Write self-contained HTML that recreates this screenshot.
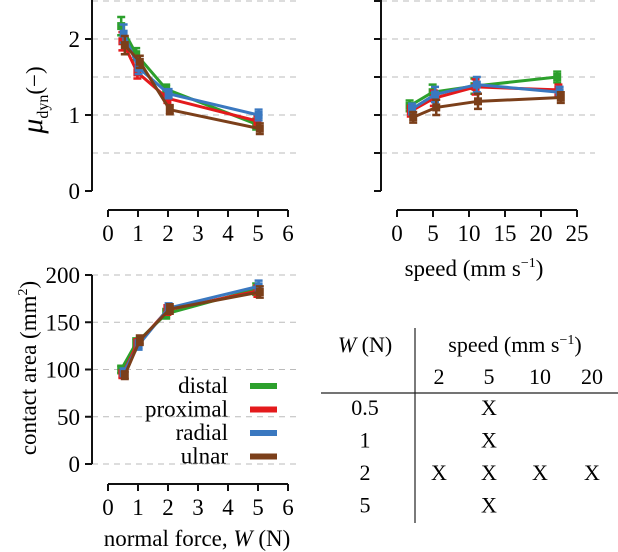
<!DOCTYPE html>
<html><head><meta charset="utf-8"><style>
body{margin:0;background:#fff}
svg{display:block;font-family:"Liberation Serif",serif;}
</style></head><body>
<svg id="c" width="618" height="552" viewBox="0 0 618 552" xmlns="http://www.w3.org/2000/svg">
<g id="tl"></g>
<g id="tr"></g>
<g id="bl"></g>
<g id="legend"></g>
<g id="table">
  <line x1="415" y1="328" x2="415" y2="523" stroke="#222" stroke-width="1.2"/>
  <line x1="321" y1="393" x2="618" y2="393" stroke="#222" stroke-width="1.2"/>
  <text x="365" y="352" font-size="22" text-anchor="middle"><tspan font-style="italic">W</tspan> (N)</text>
  <text x="515" y="352" font-size="22" text-anchor="middle">speed (mm s<tspan font-size="14" dy="-8">−1</tspan><tspan dy="8">)</tspan></text>
</g>
</svg>
<script>
const colors=["#2ca02c","#e41a1c","#3a78c0","#7b3f1a"];
const seriesNames=["distal","proximal","radial","ulnar"];
const forceX=[0.5,1,2,5];
const muForce_distal=[2.17,1.80,1.34,0.88];
const muForce_proximal=[1.97,1.56,1.22,0.92];
const muForce_radial=[2.07,1.62,1.28,1.00];
const muForce_ulnar=[1.92,1.70,1.07,0.82];
const muForceErr=[0.12,0.08,0.06,0.07];
const speedX=[2,5.2,11,22.5];
const muSpeed_distal=[1.12,1.30,1.38,1.50];
const muSpeed_proximal=[1.05,1.22,1.37,1.33];
const muSpeed_radial=[1.08,1.27,1.40,1.30];
const muSpeed_ulnar=[0.97,1.10,1.18,1.23];
const muSpeedErr=[0.07,0.1,0.1,0.07];
const area_distal=[100,128,159,185];
const area_proximal=[95,127,163,183];
const area_radial=[97,126,165,188];
const area_ulnar=[94,131,164,182];
const areaErr=[4,5,5,6];
const forceTicks=[0,1,2,3,4,5,6];
const speedTicks=[0,5,10,15,20,25];
const muTicks=[0,1,2];
const areaTicks=[0,50,100,150,200];
const tableCols=["2","5","10","20"];
const tableRows=["0.5","1","2","5"];
const tableMarks=[[0,1,0,0],[0,1,0,0],[1,1,1,1],[0,1,0,0]];

const NS="http://www.w3.org/2000/svg";
function mk(p,tag,a,txt){const e=document.createElementNS(NS,tag);for(const k in a)e.setAttribute(k,a[k]);if(txt!=null)e.textContent=txt;p.appendChild(e);return e;}
function lin(d0,d1,r0,r1){return v=>r0+(v-d0)*(r1-r0)/(d1-d0);}

function panel(g,o){
  const sx=lin(o.xd[0],o.xd[1],o.xr[0],o.xr[1]);
  const sy=lin(o.yd[0],o.yd[1],o.yr[0],o.yr[1]);
  o.grid.forEach(v=>{const l=mk(g,'line',{x1:o.ax,x2:o.gx2,y1:sy(v),y2:sy(v),stroke:'#bbb','stroke-width':1,'stroke-dasharray':'6,5'});
    
    });
  const ya=mk(g,'line',{x1:o.ax,x2:o.ax,y1:o.yTop,y2:sy(o.yd[0]),stroke:'#111','stroke-width':2});
  
  
  o.yTickVals.forEach(v=>{mk(g,'line',{x1:o.ax-7,x2:o.ax,y1:sy(v),y2:sy(v),stroke:'#111','stroke-width':2});});
  if(o.yLabels){o.yLabels.forEach(v=>{const t=mk(g,'text',{x:o.ax-12,y:sy(v)+8,'font-size':23,'text-anchor':'end'},String(v));
    
    });}
  const xa=mk(g,'line',{x1:o.xr[0],x2:o.xr[1],y1:o.xy,y2:o.xy,stroke:'#111','stroke-width':2});
  
  
  o.xTicks.forEach(v=>{mk(g,'line',{x1:sx(v),x2:sx(v),y1:o.xy,y2:o.xy+7,stroke:'#111','stroke-width':2});
    const t=mk(g,'text',{x:sx(v),y:o.xy+31,'font-size':23,'text-anchor':'middle'},String(v));
    
    });
  o.series.forEach((ys,i)=>{
    const off=(i-1.5)*1.2;
    const pts=o.xs.map((x,j)=>[sx(x)+off,sy(ys[j])]);
    const pl=mk(g,'polyline',{points:pts.map(p=>p.join(',')).join(' '),fill:'none',stroke:colors[i],'stroke-width':3});
    
    
    pts.forEach((p,j)=>{
      const e=o.err[j];const y1=sy(ys[j]+e),y2=sy(ys[j]-e);
      const eb=mk(g,'path',{d:`M${p[0]},${y1}V${y2}M${p[0]-4},${y1}H${p[0]+4}M${p[0]-4},${y2}H${p[0]+4}`,stroke:colors[i],'stroke-width':2.5,fill:'none'});
      
      
      const c=mk(g,'rect',{x:p[0]-4,y:p[1]-4,width:8,height:8,fill:colors[i]});
      
      
    });
  });
}

panel(document.getElementById('tl'),{xd:[0,6],xr:[108,288],yd:[0,2],yr:[191,39],ax:92,gx2:300,yTop:0,xy:210,
  grid:[0.5,1,1.5,2,2.5],yTickVals:muTicks,yLabels:muTicks,xTicks:forceTicks,xs:forceX,
  series:[muForce_distal,muForce_proximal,muForce_radial,muForce_ulnar],err:muForceErr});
panel(document.getElementById('tr'),{xd:[0,25],xr:[397,577],yd:[0,2],yr:[191,39],ax:381,gx2:595,yTop:0,xy:210,
  grid:[0.5,1,1.5,2,2.5],yTickVals:[0,0.5,1,1.5,2,2.5],yLabels:null,xTicks:speedTicks,xs:speedX,
  series:[muSpeed_distal,muSpeed_proximal,muSpeed_radial,muSpeed_ulnar],err:muSpeedErr});
panel(document.getElementById('bl'),{xd:[0,6],xr:[108,288],yd:[0,200],yr:[464,275],ax:92,gx2:300,yTop:275,xy:484,
  grid:[0,50,100,150,200],yTickVals:areaTicks,yLabels:areaTicks,xTicks:forceTicks,xs:forceX,
  series:[area_distal,area_proximal,area_radial,area_ulnar],err:areaErr});

const svg=document.getElementById('c');
let t=mk(svg,'text',{transform:'translate(42,100) rotate(-90)','font-size':23,'text-anchor':'middle'});
t.innerHTML='<tspan font-style="italic" font-size="30">μ</tspan><tspan font-size="16" dy="6">dyn</tspan><tspan dy="-6">(−)</tspan>';


t=mk(svg,'text',{transform:'translate(36,368) rotate(-90)','font-size':23,'text-anchor':'middle'});
t.innerHTML='contact area (mm<tspan font-size="14" dy="-9">2</tspan><tspan dy="9">)</tspan>';


t=mk(svg,'text',{x:474,y:276,'font-size':23,'text-anchor':'middle'});
t.innerHTML='speed (mm s<tspan font-size="14" dy="-9">−1</tspan><tspan dy="9">)</tspan>';


t=mk(svg,'text',{x:197,y:546,'font-size':23,'text-anchor':'middle'});
t.innerHTML='normal force, <tspan font-style="italic">W</tspan> (N)';



const lg=document.getElementById('legend');
seriesNames.forEach((n,i)=>{
  const y=386+i*23.5;
  const tx=mk(lg,'text',{x:228,y:y+7,'font-size':23,'text-anchor':'end'},n);
  
  
  const r=mk(lg,'rect',{x:250,y:y-3,width:27,height:6,fill:colors[i]});
  
  
});

const tb=document.getElementById('table');
const colX=[439,489,540,592];
tableCols.forEach((c,i)=>{const e=mk(tb,'text',{x:colX[i],y:384,'font-size':22,'text-anchor':'middle'},c);
  
  });
tableRows.forEach((r,i)=>{
  const y=415+i*32.5;
  const e=mk(tb,'text',{x:365,y:y,'font-size':22,'text-anchor':'middle'},r);
  
  
  tableMarks[i].forEach((m,j)=>{if(m){const x=mk(tb,'text',{x:colX[j],y:y,'font-size':22,'text-anchor':'middle'},'X');
    
    }});
});
</script>
</body></html>
